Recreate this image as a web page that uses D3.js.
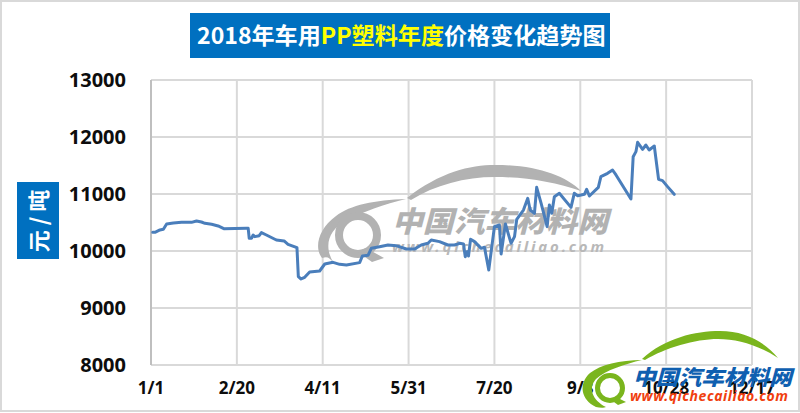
<!DOCTYPE html>
<html><head><meta charset="utf-8"><style>html,body{margin:0;padding:0;background:#fff}svg{display:block}</style>
<script src="https://cdnjs.cloudflare.com/ajax/libs/d3/7.8.5/d3.min.js"></script></head><body><svg id="c" width="800" height="413"></svg>
<script>
const yTicks=[8000,9000,10000,11000,12000,13000];
const xTickDays=[0,50,100,150,200,250,300,350];
const xTickLabels=["1/1","2/20","4/11","5/31","7/20","9/8","10/28","12/17"];
const days=[1,2.3,5.2,7.2,9.1,13,17.8,23.6,26.5,29.4,31.4,35.3,39.1,42.4,55.6,56.6,57.2,58.5,59.5,60.5,63,64.3,67.2,73,77.5,79.8,85,85.8,87.4,89.5,92.4,98.2,101.2,106,109.9,113.8,121.5,123.1,126.4,128.3,133.1,138,142.8,148.7,153.5,157.4,161.3,163.2,168,172.9,176.8,179.7,182,183,184.1,184.9,186.1,188.4,192.3,194.2,196.7,200,202.9,203.9,206.4,209.7,211.7,213,216.9,219.4,220.8,223.3,224.6,227.2,230.7,232,233.4,234.9,237.8,244.6,246.5,248.5,252.4,253.7,255.3,260.5,262,265.9,268.8,270.8,279.5,280.8,282.4,283.4,286.3,288.2,290.1,293.1,295.6,297.9,300.8,304.7];
const prices=[10328,10328,10369,10380,10474,10491,10503,10503,10527,10509,10486,10468,10439,10392,10398,10398,10222,10222,10281,10252,10269,10322,10281,10193,10176,10117,10059,9550,9509,9538,9632,9649,9772,9801,9766,9755,9796,9913,9924,10047,10076,10105,10094,10035,10035,10105,10135,10193,10164,10105,10105,10135,10123,9901,9988,9912,10205,10164,10047,10065,9667,10427,10456,9948,10474,10135,10252,10556,10719,10924,10719,10661,11117,10836,10427,10807,10661,10953,11012,10766,11012,10971,10994,11082,10965,11117,11304,11363,11421,11334,10912,11655,11743,11907,11784,11860,11772,11842,11257,11234,11129,10994];
const titleParts=[["2018年车用","#fff"],["PP塑料年度","#ffff00"],["价格变化趋势图","#fff"]];
const yLabel="元 / 吨";
const brandName="中国汽车材料网", brandUrl="www.qichecailiao.com";

const CJK='"Noto Sans CJK SC","Noto Sans",sans-serif', LAT='"Noto Sans","Open Sans",sans-serif';
const svg=d3.select("#c");
svg.append("rect").attr("x",1).attr("y",1).attr("width",798).attr("height",410).attr("fill","#fff").attr("stroke","#d9d9d9").attr("stroke-width",2);

const x=d3.scaleLinear().domain([0,350]).range([151,752]);
const y=d3.scaleLinear().domain([8000,13000]).range([365,80]);

// grid
const g=svg.append("g");
g.selectAll("line.h").data(yTicks).join("line").attr("class","h").attr("x1",x(0)).attr("x2",x(350)).attr("y1",d=>y(d)).attr("y2",d=>y(d)).attr("stroke","#d9d9d9").attr("stroke-width",2);
g.selectAll("line.v").data(xTickDays).join("line").attr("class","v").attr("x1",d=>x(d)).attr("x2",d=>x(d)).attr("y1",y(13000)).attr("y2",y(8000)).attr("stroke",d=>d===0?"#bfbfbf":"#d9d9d9").attr("stroke-width",2);

// watermark (grey)
const wm=svg.append("g").attr("fill","#b2b2b2");
wm.append("path").attr("d","M407 198C440 172 470 165 495 165C535 165 565 175 581 191C555 182 525 177 495 177C465 177 435 185 411 200Z");
wm.append("path").attr("d","M406 199C375 200 350 205 336 216C318 229 314 248 322 258C328 256 329 258 333 262C323 244 330 230 345 221C362 212 385 204 406 199Z");
wm.append("circle").attr("cx",358).attr("cy",235).attr("r",19).attr("fill","none").attr("stroke","#b2b2b2").attr("stroke-width",8);
wm.append("path").attr("d","M366 248L384 258L372 262L358 252Z");
wm.append("text").attr("x",392).attr("y",232).attr("font-family",CJK).attr("font-weight",900).attr("font-style","italic").attr("font-size",29).attr("textLength",216).attr("lengthAdjust","spacingAndGlyphs").text(brandName);
wm.append("text").attr("x",392).attr("y",252).attr("font-family",LAT).attr("font-weight",700).attr("font-style","italic").attr("font-size",15).attr("textLength",212).attr("fill","#b8b8b8").text(brandUrl);

// price line
svg.append("path").datum(days.map((d,i)=>[d,prices[i]])).attr("fill","none").attr("stroke","#4a7ebb").attr("stroke-width",3).attr("stroke-linejoin","round").attr("stroke-linecap","round")
 .attr("d",d3.line().x(d=>x(d[0])).y(d=>y(d[1])));

// tick labels
svg.append("g").selectAll("text").data(yTicks).join("text").attr("x",126).attr("y",d=>y(d)+7).attr("text-anchor","end").attr("font-family",LAT).attr("font-weight",700).attr("font-size",20).attr("fill","#0d0d0d").text(d=>d);
svg.append("g").selectAll("text").data(xTickDays).join("text").attr("x",d=>x(d)).attr("y",394).attr("text-anchor","middle").attr("font-family",LAT).attr("font-weight",700).attr("font-size",17).attr("fill","#0d0d0d").text((d,i)=>xTickLabels[i]);

// title
svg.append("rect").attr("x",190).attr("y",13).attr("width",420).attr("height",45).attr("fill","#0070c0");
const t=svg.append("text").attr("x",197).attr("y",44).attr("font-family",CJK).attr("font-weight",700).attr("font-size",23.1);
t.selectAll("tspan").data(titleParts).join("tspan").attr("fill",d=>d[1]).text(d=>d[0]);

// y label
svg.append("rect").attr("x",17).attr("y",182).attr("width",42).attr("height",77).attr("fill","#0070c0");
svg.append("text").attr("transform","translate(47,221) rotate(-90)").attr("text-anchor","middle").attr("font-family",CJK).attr("font-weight",700).attr("font-size",22).attr("fill","#fff").text(yLabel);

// corner logo
const lg=svg.append("g");
lg.append("path").attr("fill","#7ab51d").attr("d","M642 359C665 338 695 331 720 331C745 331 765 342 778 358C758 345 738 339 718 339C695 339 665 348 645 360Z");
lg.append("path").attr("fill","#7ab51d").attr("d","M642 360C620 360 600 365 590 373C578 384 581 400 596 407C600 408 604 408 606 407C592 400 588 388 596 379C606 370 625 364 642 360Z");
lg.append("circle").attr("cx",610).attr("cy",388).attr("r",12.5).attr("fill","none").attr("stroke","#7ab51d").attr("stroke-width",5);
lg.append("path").attr("fill","#7ab51d").attr("d","M616 397L626 402L618 405L610 399Z");
lg.append("text").attr("x",633).attr("y",385).attr("font-family",CJK).attr("font-weight",900).attr("font-style","italic").attr("font-size",21).attr("textLength",159).attr("lengthAdjust","spacingAndGlyphs").attr("fill","#0f5fb0").text(brandName);
lg.append("text").attr("x",630).attr("y",401).attr("font-family",LAT).attr("font-weight",700).attr("font-style","italic").attr("font-size",14).attr("textLength",158).attr("fill","#f0400f").text(brandUrl);
</script>
</body></html>
